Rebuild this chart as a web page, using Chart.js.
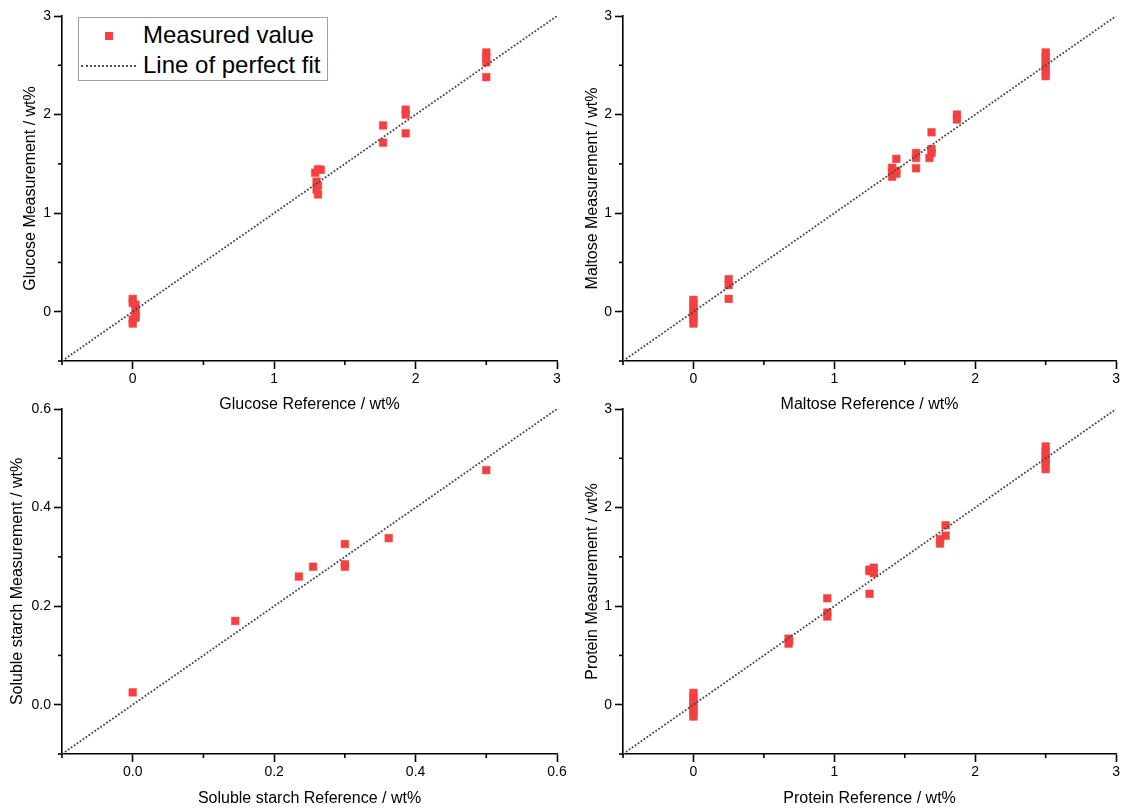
<!DOCTYPE html>
<html>
<head>
<meta charset="utf-8">
<script src="https://cdn.jsdelivr.net/npm/chart.js@4.4.0/dist/chart.umd.min.js"></script>
<style>
  body { margin: 0; background: #fff; }
  #quadro { position: relative; width: 1122px; height: 810px; }
  #quadro canvas { position: absolute; left: 0; top: 0; }
  .legenda {
    position: absolute; left: 78px; top: 17px; width: 248px; height: 62px;
    border: 1px solid #a0a0a0; background: #fff;
    font-family: "Liberation Sans", Arial, sans-serif; font-size: 24px; color: #000;
  }
  .item { position: absolute; left: 0; height: 30px; line-height: 30px; }
  .item span.txt { position: absolute; left: 64px; white-space: nowrap; }
  .marcador { position: absolute; left: 26px; top: 12px; width: 8px; height: 8px; background: #f44040; }
  .tracejado { position: absolute; left: 2px; top: 15px; width: 55px; border-top: 2px dotted #505050; }
</style>
</head>
<body>
<div id="quadro">
  <canvas id="glicose" width="1122" height="810"></canvas>
  <canvas id="maltose" width="1122" height="810"></canvas>
  <canvas id="amido" width="1122" height="810"></canvas>
  <canvas id="proteina" width="1122" height="810"></canvas>
  <div class="legenda" id="legenda"></div>
</div>
<script>
// eixos
const ticksWt = [0, 1, 2, 3];
const menoresWt = [-0.5, 0.5, 1.5, 2.5];
const limitesWt = [-0.5, 3];
const ticksAmido = [0.0, 0.2, 0.4, 0.6];
const menoresAmido = [-0.1, 0.1, 0.3, 0.5];
const limitesAmido = [-0.1, 0.6];

// glicose
const glicoseRef = [0, 0, 0.02, 0.02, 0.02, 0.02, 0, 0,
  1.29, 1.31, 1.33, 1.30, 1.31, 1.30, 1.31,
  1.77, 1.77, 1.93, 1.93, 1.93, 2.5, 2.5, 2.5, 2.5];
const glicoseMed = [0.13, 0.09, 0.07, 0.02, -0.03, -0.06, -0.08, -0.12,
  1.41, 1.445, 1.44, 1.32, 1.28, 1.24, 1.19,
  1.89, 1.715, 2.05, 2.0, 1.81, 2.63, 2.58, 2.53, 2.38];

// maltose
const maltoseRef = [0, 0, 0, 0, 0, 0, 0, 0.25, 0.25, 0.25,
  1.41, 1.41, 1.41, 1.44, 1.44, 1.44, 1.58, 1.58, 1.58,
  1.69, 1.69, 1.69, 1.675, 1.87, 1.87, 2.5, 2.5, 2.5, 2.5, 2.5, 2.5];
const maltoseMed = [0.12, 0.08, 0.04, 0, -0.04, -0.08, -0.12, 0.33, 0.27, 0.13,
  1.46, 1.42, 1.37, 1.40, 1.43, 1.55, 1.61, 1.56, 1.455,
  1.82, 1.65, 1.61, 1.56, 2.0, 1.95, 2.63, 2.58, 2.53, 2.48, 2.44, 2.39];

// amido soluvel
const amidoRef = [0, 0.145, 0.235, 0.255, 0.30, 0.30, 0.30, 0.362, 0.50];
const amidoMed = [0.025, 0.17, 0.26, 0.28, 0.326, 0.285, 0.28, 0.338, 0.476];

// proteina
const proteinaRef = [0, 0, 0, 0, 0, 0, 0, 0.675, 0.675, 0.68, 0.95, 0.95, 0.95,
  1.25, 1.25, 1.28, 1.28, 1.25, 1.79, 1.79, 1.75, 1.75, 2.5, 2.5, 2.5, 2.5, 2.5, 2.5];
const proteinaMed = [0.12, 0.08, 0.04, 0, -0.04, -0.08, -0.12, 0.67, 0.62, 0.645, 1.08, 0.935, 0.895,
  1.37, 1.355, 1.39, 1.335, 1.125, 1.82, 1.715, 1.68, 1.635, 2.62, 2.57, 2.52, 2.48, 2.44, 2.39];

const FONTE = '"Liberation Sans", Arial, sans-serif';
const VERMELHO = "#f44040";
const ESPESSURA = 1.6;

const ticksMenores = {
  id: "ticksMenores",
  afterDraw(chart, args, opts) {
    const ctx = chart.ctx;
    const x = chart.scales.x;
    const y = chart.scales.y;
    ctx.save();
    ctx.strokeStyle = "#000";
    ctx.lineWidth = ESPESSURA;
    for (const v of opts.menores) {
      const px = x.getPixelForValue(v);
      ctx.beginPath();
      ctx.moveTo(px, x.top);
      ctx.lineTo(px, x.top + 4);
      ctx.stroke();
      const py = y.getPixelForValue(v);
      ctx.beginPath();
      ctx.moveTo(y.right, py);
      ctx.lineTo(y.right - 4, py);
      ctx.stroke();
    }
    ctx.restore();
  },
};

function juntar(xs, ys) {
  const pontos = [];
  for (let i = 0; i < xs.length; i++) {
    pontos.push({ x: xs[i], y: ys[i] });
  }
  return pontos;
}

function eixo(titulo, limites, ticks, casas, largura, altura) {
  return {
    type: "linear",
    min: limites[0],
    max: limites[1],
    afterBuildTicks: (scale) => {
      scale.ticks = ticks.map((v) => ({ value: v }));
    },
    afterFit: (scale) => {
      if (largura) scale.width = largura;
      if (altura) scale.height = altura;
    },
    border: { display: true, color: "#000", width: ESPESSURA },
    grid: {
      display: true,
      drawOnChartArea: false,
      drawTicks: true,
      tickLength: 8,
      tickColor: "#000",
      tickWidth: ESPESSURA,
    },
    ticks: {
      color: "#000",
      padding: largura ? 3 : 2,
      font: { family: FONTE, size: 14 },
      callback: (v) => Number(v).toFixed(casas),
    },
    title: {
      display: true,
      text: titulo,
      color: "#000",
      padding: 0,
      font: { family: FONTE, size: 16 },
    },
  };
}

// area = [esquerda, topo, direita, baixo] da area do grafico
function criarPainel(id, area, tituloYpos, tituloXpos, nomeX, nomeY, refs, meds, limites, ticks, menores, casas) {
  const meia = 9.6;
  const padEsq = tituloYpos - meia;
  const padBaixo = 810 - (tituloXpos + meia);
  const config = {
    type: "scatter",
    data: {
      datasets: [
        {
          label: "Line of perfect fit",
          type: "line",
          data: juntar(limites, limites),
          showLine: true,
          pointRadius: 0,
          borderColor: "#454545",
          borderWidth: 1.8,
          borderDash: [1.8, 1.8],
          fill: false,
        },
        {
          label: "Measured value",
          data: juntar(refs, meds),
          pointStyle: "rect",
          pointRadius: 5.4,
          pointBackgroundColor: VERMELHO,
          pointBorderColor: VERMELHO,
          pointBorderWidth: 0.5,
        },
      ],
    },
    options: {
      responsive: false,
      animation: false,
      events: [],
      layout: {
        padding: { left: padEsq, top: area[1], right: 1122 - area[2], bottom: padBaixo },
      },
      scales: {
        x: eixo(nomeX, limites, ticks, casas, 0, tituloXpos + meia - area[3]),
        y: eixo(nomeY, limites, ticks, casas, area[0] - padEsq, 0),
      },
      plugins: {
        legend: { display: false },
        tooltip: { enabled: false },
        ticksMenores: { menores: menores },
      },
    },
    plugins: [ticksMenores],
  };
  return new Chart(document.getElementById(id), config);
}

const casasWt = 0;
const casasAmido = 1;

const painelGlicose = criarPainel("glicose", [62, 16, 557, 361], 31, 405,
  "Glucose Reference / wt%", "Glucose Measurement / wt%",
  glicoseRef, glicoseMed, limitesWt, ticksWt, menoresWt, casasWt);
criarPainel("maltose", [623, 16, 1118, 361], 593, 405,
  "Maltose Reference / wt%", "Maltose Measurement / wt%",
  maltoseRef, maltoseMed, limitesWt, ticksWt, menoresWt, casasWt);
criarPainel("amido", [62, 409, 557, 754], 18, 799,
  "Soluble starch Reference / wt%", "Soluble starch Measurement / wt%",
  amidoRef, amidoMed, limitesAmido, ticksAmido, menoresAmido, casasAmido);
criarPainel("proteina", [623, 409, 1118, 754], 593, 799,
  "Protein Reference / wt%", "Protein Measurement / wt%",
  proteinaRef, proteinaMed, limitesWt, ticksWt, menoresWt, casasWt);

// legenda a partir dos datasets do primeiro painel
const legenda = document.getElementById("legenda");
const sets = painelGlicose.data.datasets;
const itemPontos = document.createElement("div");
itemPontos.className = "item";
itemPontos.style.top = "2px";
itemPontos.innerHTML = '<div class="marcador"></div><span class="txt">' + sets[1].label + "</span>";
const itemLinha = document.createElement("div");
itemLinha.className = "item";
itemLinha.style.top = "32px";
itemLinha.innerHTML = '<div class="tracejado"></div><span class="txt">' + sets[0].label + "</span>";
legenda.appendChild(itemPontos);
legenda.appendChild(itemLinha);
</script>
</body>
</html>
